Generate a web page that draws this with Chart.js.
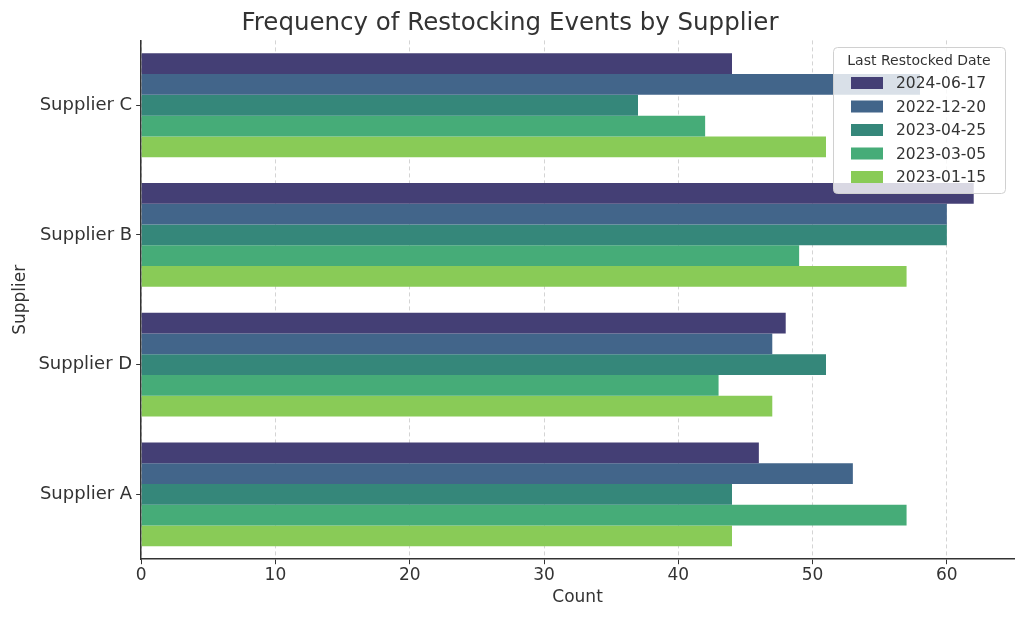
<!DOCTYPE html>
<html>
<head>
<meta charset="utf-8">
<script src="https://cdn.jsdelivr.net/npm/chart.js@4.4.0/dist/chart.umd.min.js"></script>
<style>
  html, body { margin: 0; padding: 0; background: #fff; }
  #wrap { width: 1024px; height: 620px; }
</style>
</head>
<body>
<div id="wrap"><canvas id="restockChart"></canvas></div>
<script>
// Données du graphique
var suppliers = ['Supplier C', 'Supplier B', 'Supplier D', 'Supplier A'];
var dates = ['2024-06-17', '2022-12-20', '2023-04-25', '2023-03-05', '2023-01-15'];
var counts20240617 = [44, 62, 48, 46];
var counts20221220 = [58, 60, 47, 53];
var counts20230425 = [37, 60, 51, 44];
var counts20230305 = [42, 49, 43, 57];
var counts20230115 = [51, 57, 47, 44];
var xTicks = [0, 10, 20, 30, 40, 50, 60];

var seriesData = [counts20240617, counts20221220, counts20230425, counts20230305, counts20230115];
var colors = ['#443f75', '#42658a', '#35877a', '#46ac78', '#89cb57'];

Chart.defaults.font.family = '"DejaVu Sans", sans-serif';
Chart.defaults.color = '#333';

// Légende dessinée à la main dans la zone du graphique (coin haut droit)
var insideLegend = {
    id: 'insideLegend',
    afterDraw: function (chart) {
        var ctx = chart.ctx;
        var x = 833, y = 47, w = 172, h = 146;
        ctx.save();
        ctx.fillStyle = 'rgba(255,255,255,0.8)';
        ctx.strokeStyle = '#d0d0d0';
        ctx.lineWidth = 1;
        ctx.beginPath();
        ctx.roundRect(x + 0.5, y + 0.5, w, h, 4);
        ctx.fill();
        ctx.stroke();
        ctx.fillStyle = '#333';
        ctx.textBaseline = 'middle';
        ctx.textAlign = 'center';
        ctx.font = '14px "DejaVu Sans"';
        ctx.fillText('Last Restocked Date', x + w / 2, 61);
        ctx.textAlign = 'left';
        ctx.font = '15.5px "DejaVu Sans"';
        chart.data.datasets.forEach(function (ds, i) {
            var cy = 83 + i * 23.5;
            ctx.fillStyle = ds.backgroundColor;
            ctx.fillRect(851, cy - 6, 32, 12);
            ctx.fillStyle = '#333';
            ctx.fillText(ds.label, 896, cy + 1);
        });
        ctx.restore();
    }
};

var ctxRestock = document.getElementById('restockChart').getContext('2d');
var restockChart = new Chart(ctxRestock, {
    type: 'bar',
    data: {
        labels: suppliers,
        datasets: dates.map(function (d, i) {
            return {
                label: d,
                data: seriesData[i],
                backgroundColor: colors[i],
                borderWidth: 0,
                categoryPercentage: 0.8,
                barPercentage: 1.0
            };
        })
    },
    options: {
        indexAxis: 'y',
        responsive: true,
        maintainAspectRatio: false,
        animation: false,
        layout: { padding: { left: 6, right: 10, top: 4, bottom: 12 } },
        plugins: {
            legend: { display: false },
            tooltip: { enabled: false },
            title: {
                display: true,
                text: 'Frequency of Restocking Events by Supplier',
                color: '#333',
                font: { size: 24.5, weight: 'normal' },
                padding: { top: 5, bottom: 2 }
            }
        },
        scales: {
            x: {
                min: 0,
                max: 65,
                afterBuildTicks: function (axis) {
                    axis.ticks = xTicks.map(function (v) { return { value: v }; });
                },
                grid: {
                    display: true,
                    color: '#d4d4d4',
                    drawTicks: true,
                    tickLength: 5,
                    tickColor: '#333',
                    tickBorderDash: []
                },
                border: { display: true, color: '#333', width: 1.5, dash: [4, 3] },
                ticks: { font: { size: 17 }, color: '#333', padding: 1 },
                title: { display: true, text: 'Count', font: { size: 17 }, color: '#333', padding: { top: 1, bottom: 0 } }
            },
            y: {
                grid: { display: true, offset: false, color: 'rgba(0,0,0,0)', drawTicks: true, tickLength: 5, tickColor: '#333' },
                border: { display: true, color: '#333', width: 1.5 },
                ticks: { font: { size: 18 }, color: '#333', padding: 4 },
                title: { display: true, text: 'Supplier', font: { size: 17 }, color: '#333', padding: { bottom: 4 } }
            }
        }
    },
    plugins: [insideLegend]
});
</script>
</body>
</html>
